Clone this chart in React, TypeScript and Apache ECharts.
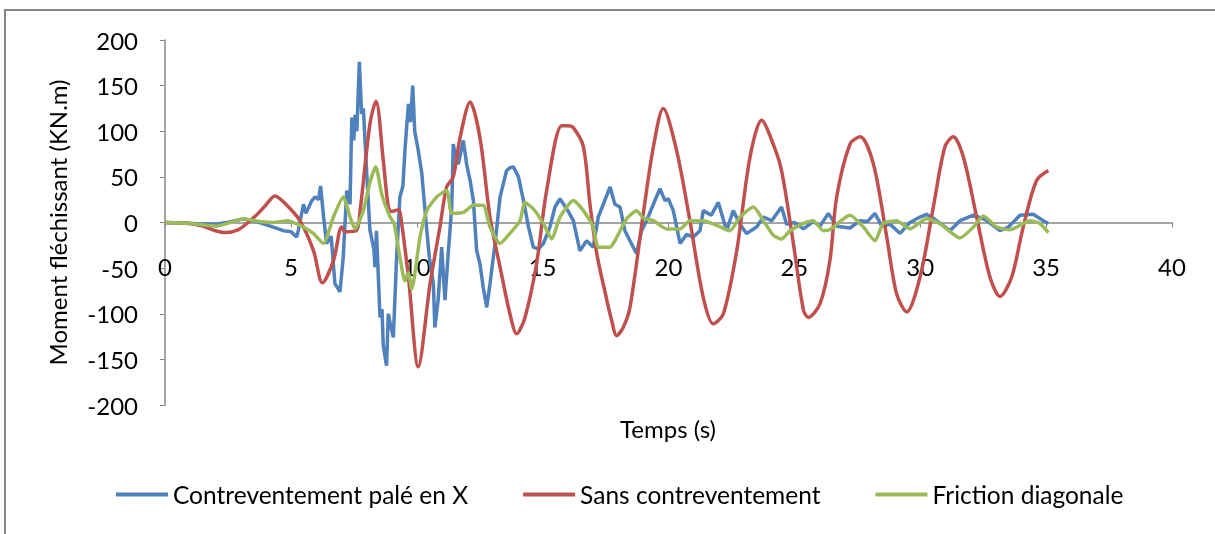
import React, { useEffect, useRef } from "react";
import * as echarts from "echarts";

const seriesNames = ["Contreventement palé en X", "Sans contreventement", "Friction diagonale"];
const seriesColors = ["#4F81BD", "#C0504D", "#9BBB59"];

const xTicks = [0, 5, 10, 15, 20, 25, 30, 35, 40];
const yTicks = [-200, -150, -100, -50, 0, 50, 100, 150, 200];

const blueT = [0, 1.0, 2.0, 2.45, 3.11, 3.64, 4.3, 4.7, 5.0, 5.23, 5.3, 5.5, 5.6, 5.83, 5.96, 6.1, 6.18, 6.3, 6.42, 6.6, 6.75, 6.95, 7.08, 7.15, 7.22, 7.35, 7.42, 7.5, 7.55, 7.62, 7.72, 7.81, 7.88, 8.01, 8.14, 8.3, 8.34, 8.4, 8.54, 8.62, 8.67, 8.8, 8.87, 8.94, 9.07, 9.2, 9.33, 9.45, 9.53, 9.6, 9.67, 9.75, 9.84, 9.92, 10.06, 10.2, 10.26, 10.4, 10.5, 10.66, 10.72, 10.85, 10.99, 11.12, 11.25, 11.39, 11.45, 11.52, 11.65, 11.85, 11.98, 12.12, 12.25, 12.38, 12.51, 12.64, 12.78, 12.91, 13.11, 13.31, 13.57, 13.7, 13.84, 14.04, 14.24, 14.44, 14.63, 14.83, 15.03, 15.29, 15.49, 15.69, 16.0, 16.22, 16.48, 16.75, 17.01, 17.21, 17.41, 17.68, 17.87, 18.07, 18.27, 18.47, 18.73, 18.93, 19.13, 19.4, 19.66, 19.86, 19.99, 20.19, 20.46, 20.72, 20.99, 21.25, 21.38, 21.7, 21.98, 22.18, 22.31, 22.57, 22.84, 23.1, 23.5, 23.77, 24.1, 24.49, 24.69, 25.0, 25.36, 25.75, 26.02, 26.35, 26.68, 27.21, 27.61, 27.9, 28.2, 28.47, 28.8, 29.2, 29.59, 29.99, 30.25, 30.6, 31.18, 31.58, 32.11, 32.6, 33.17, 33.5, 33.96, 34.49, 34.89, 35.09];
const blueV = [0, -1, -2, 0, 4, 1, -5, -9, -10, -16, -8, 20, 10, 24, 28, 25, 40, 6, -23, -15, -67, -76, -38, -1, 35, 20, 115, 90, 118, 100, 176, 119, 125, 55, -8, -30, -49, -9, -104, -95, -135, -157, -100, -110, -126, -38, 28, 40, 79, 105, 130, 110, 150, 100, 79, 54, 35, -9, -38, -67, -115, -85, -27, -85, -34, 17, 86, 75, 64, 90, 64, 46, 24, -31, -45, -71, -93, -67, -23, 28, 57, 60, 61, 50, 24, -5, -27, -29, -23, -5, 17, 26, 13, 2, -31, -20, -27, 6, 20, 39, 20, 17, -9, -20, -34, -9, 2, 20, 37, 24, 26, 13, -23, -13, -16, -9, 13, 8, 22, 3, -9, 13, -2, -12, -5, 6, 2, 17, -2, 0, -7, 1, -4, 10, -4, -6, 2, 1, 10, -4, -2, -12, 0, 6, 9, 3, -9, 2, 8, 3, -9, -5, 8, 9, 2, -1];

const redT = [0, 1.0, 1.5, 2.0, 2.4, 2.9, 3.3, 3.7, 4.0, 4.37, 4.8, 5.36, 5.9, 6.25, 6.69, 7.02, 7.15, 7.6, 7.75, 8.14, 8.38, 8.67, 8.87, 9.0, 9.27, 9.4, 9.67, 10.06, 10.53, 10.92, 11.19, 11.45, 11.72, 12.12, 12.51, 12.91, 13.31, 13.7, 13.97, 14.3, 14.76, 15.16, 15.76, 16.0, 16.22, 16.62, 16.88, 17.15, 17.55, 17.74, 17.94, 18.2, 18.47, 19.0, 19.4, 19.79, 20.32, 20.85, 21.38, 21.78, 22.18, 22.71, 23.24, 23.7, 24.16, 24.49, 24.96, 25.36, 25.55, 26.02, 26.41, 26.68, 27.21, 27.61, 28.14, 28.67, 29.06, 29.46, 29.99, 30.52, 30.98, 31.31, 31.71, 32.24, 32.77, 33.17, 33.63, 34.09, 34.62, 35.09];
const redV = [0, -1, -4, -9, -11, -8, 0, 10, 19, 29, 20, 2, -31, -66, -42, -5, -10, -9, 13, 108, 133, 68, 17, 12, 14, -1, -60, -158, -67, -5, 39, 50, 93, 132, 93, 6, -49, -100, -122, -104, -45, 35, 106, 106, 104, 83, 20, -34, -85, -107, -124, -115, -93, 10, 83, 125, 79, 2, -82, -111, -100, -31, 72, 112, 86, 57, -23, -96, -104, -89, -42, 28, 86, 94, 64, -16, -78, -98, -60, 17, 83, 94, 72, 6, -60, -81, -60, -5, 46, 57];

const greenT = [0, 1.0, 2.05, 2.6, 3.11, 3.77, 4.3, 4.9, 5.1, 5.5, 5.89, 6.29, 6.69, 7.08, 7.35, 7.55, 7.88, 8.14, 8.37, 8.61, 8.94, 9.1, 9.33, 9.53, 9.67, 9.8, 10.13, 10.4, 10.79, 11.19, 11.39, 11.85, 12.25, 12.64, 12.91, 13.31, 13.7, 14.1, 14.3, 14.63, 15.03, 15.36, 15.69, 16.22, 16.62, 17.01, 17.21, 17.68, 17.87, 18.34, 18.73, 19.0, 19.4, 19.93, 20.46, 20.85, 21.38, 21.91, 22.44, 22.84, 23.37, 23.77, 24.16, 24.49, 24.83, 25.36, 25.75, 26.15, 26.4, 27.21, 27.74, 28.2, 28.53, 29.06, 29.59, 30.25, 30.78, 31.58, 32.11, 32.51, 33.04, 33.56, 34.36, 34.75, 35.09];
const greenV = [0, -1, -4, 0, 4, 1, 0, 2, 0, -5, -12, -23, 6, 28, 6, -7, 13, 44, 61, 31, 6, -1, -38, -64, -55, -73, -16, 13, 28, 35, 10, 11, 19, 19, -5, -23, -12, 2, 22, 15, -1, -18, 6, 24, 13, -5, -27, -27, -20, 4, 13, 5, 2, -7, -7, 2, 2, -3, -9, 6, 17, 2, -14, -18, -9, -1, 2, -9, -8, 8, -5, -20, -1, 2, -7, 4, -1, -17, -5, 7, -5, -8, 2, -1, -11];

const zip = (t: number[], v: number[]) => t.map((x, i) => [x, v[i]]);

const FONT = "Lato, 'Liberation Sans', sans-serif";
const AXIS = "#868686";

export default function App() {
  const ref = useRef<HTMLDivElement>(null);
  useEffect(() => {
    if (!ref.current) return;
    const chart = echarts.init(ref.current, null, { renderer: "svg" });
    const data = [zip(blueT, blueV), zip(redT, redV), zip(greenT, greenV)];
    chart.setOption({
      animation: false,
      textStyle: { fontFamily: FONT },
      graphic: [
        {
          type: "rect",
          shape: { x: 5, y: 10, width: 1400, height: 700 },
          style: { fill: "none", stroke: AXIS, lineWidth: 2 },
          silent: true,
          z: -1,
        },
        {
          type: "text",
          x: 668,
          y: 428,
          style: { text: "Temps (s)", fontFamily: FONT, fontSize: 24, fill: "#000", align: "center", verticalAlign: "middle" },
          silent: true,
        },
      ],
      grid: { left: 165, right: 43, top: 40, bottom: 129, containLabel: false, outerBoundsMode: "none" },
      legend: {
        bottom: 22,
        left: 111,
        itemWidth: 52,
        itemHeight: 4,
        itemGap: 55,
        textStyle: { fontFamily: FONT, fontSize: 24.5, color: "#000" },
        data: seriesNames.map((n) => ({ name: n, icon: "rect" })),
      },
      xAxis: {
        type: "value",
        min: 0,
        max: 40,
        interval: 5,
        position: "bottom",
        offset: -182.5,
        axisLine: { onZero: false, lineStyle: { color: AXIS, width: 1.5 } },
        axisTick: { show: true, inside: false, length: 5, lineStyle: { color: AXIS } },
        axisLabel: { margin: 32, fontFamily: FONT, fontSize: 24, color: "#000", formatter: (v: number) => (xTicks.includes(v) ? String(v) : "") },
        splitLine: { show: false },
      },
      yAxis: {
        type: "value",
        min: -200,
        max: 200,
        interval: 50,
        name: "Moment fléchissant (KN.m)",
        nameLocation: "middle",
        nameGap: 96,
        nameRotate: 90,
        nameTextStyle: { fontFamily: FONT, fontSize: 24, color: "#000" },
        axisLine: { show: true, lineStyle: { color: AXIS, width: 1.5 } },
        axisTick: { show: true, inside: false, length: 5, lineStyle: { color: AXIS } },
        axisLabel: { margin: 27, fontFamily: FONT, fontSize: 24, color: "#000", formatter: (v: number) => (yTicks.includes(v) ? String(v) : "") },
        splitLine: { show: false },
      },
      series: seriesNames.map((n, i) => ({
        name: n,
        type: "line",
        data: data[i],
        showSymbol: false,
        smooth: i === 1 ? 0.3 : i === 2 ? 0.2 : false,
        lineStyle: { color: seriesColors[i], width: 3.5 },
        itemStyle: { color: seriesColors[i] },
        z: i === 0 ? 2 : i === 1 ? 3 : 4,
      })),
    });
    return () => chart.dispose();
  }, []);
  return <div ref={ref} style={{ position: "fixed", left: 0, top: 0, width: 1215, height: 534 }} />;
}
